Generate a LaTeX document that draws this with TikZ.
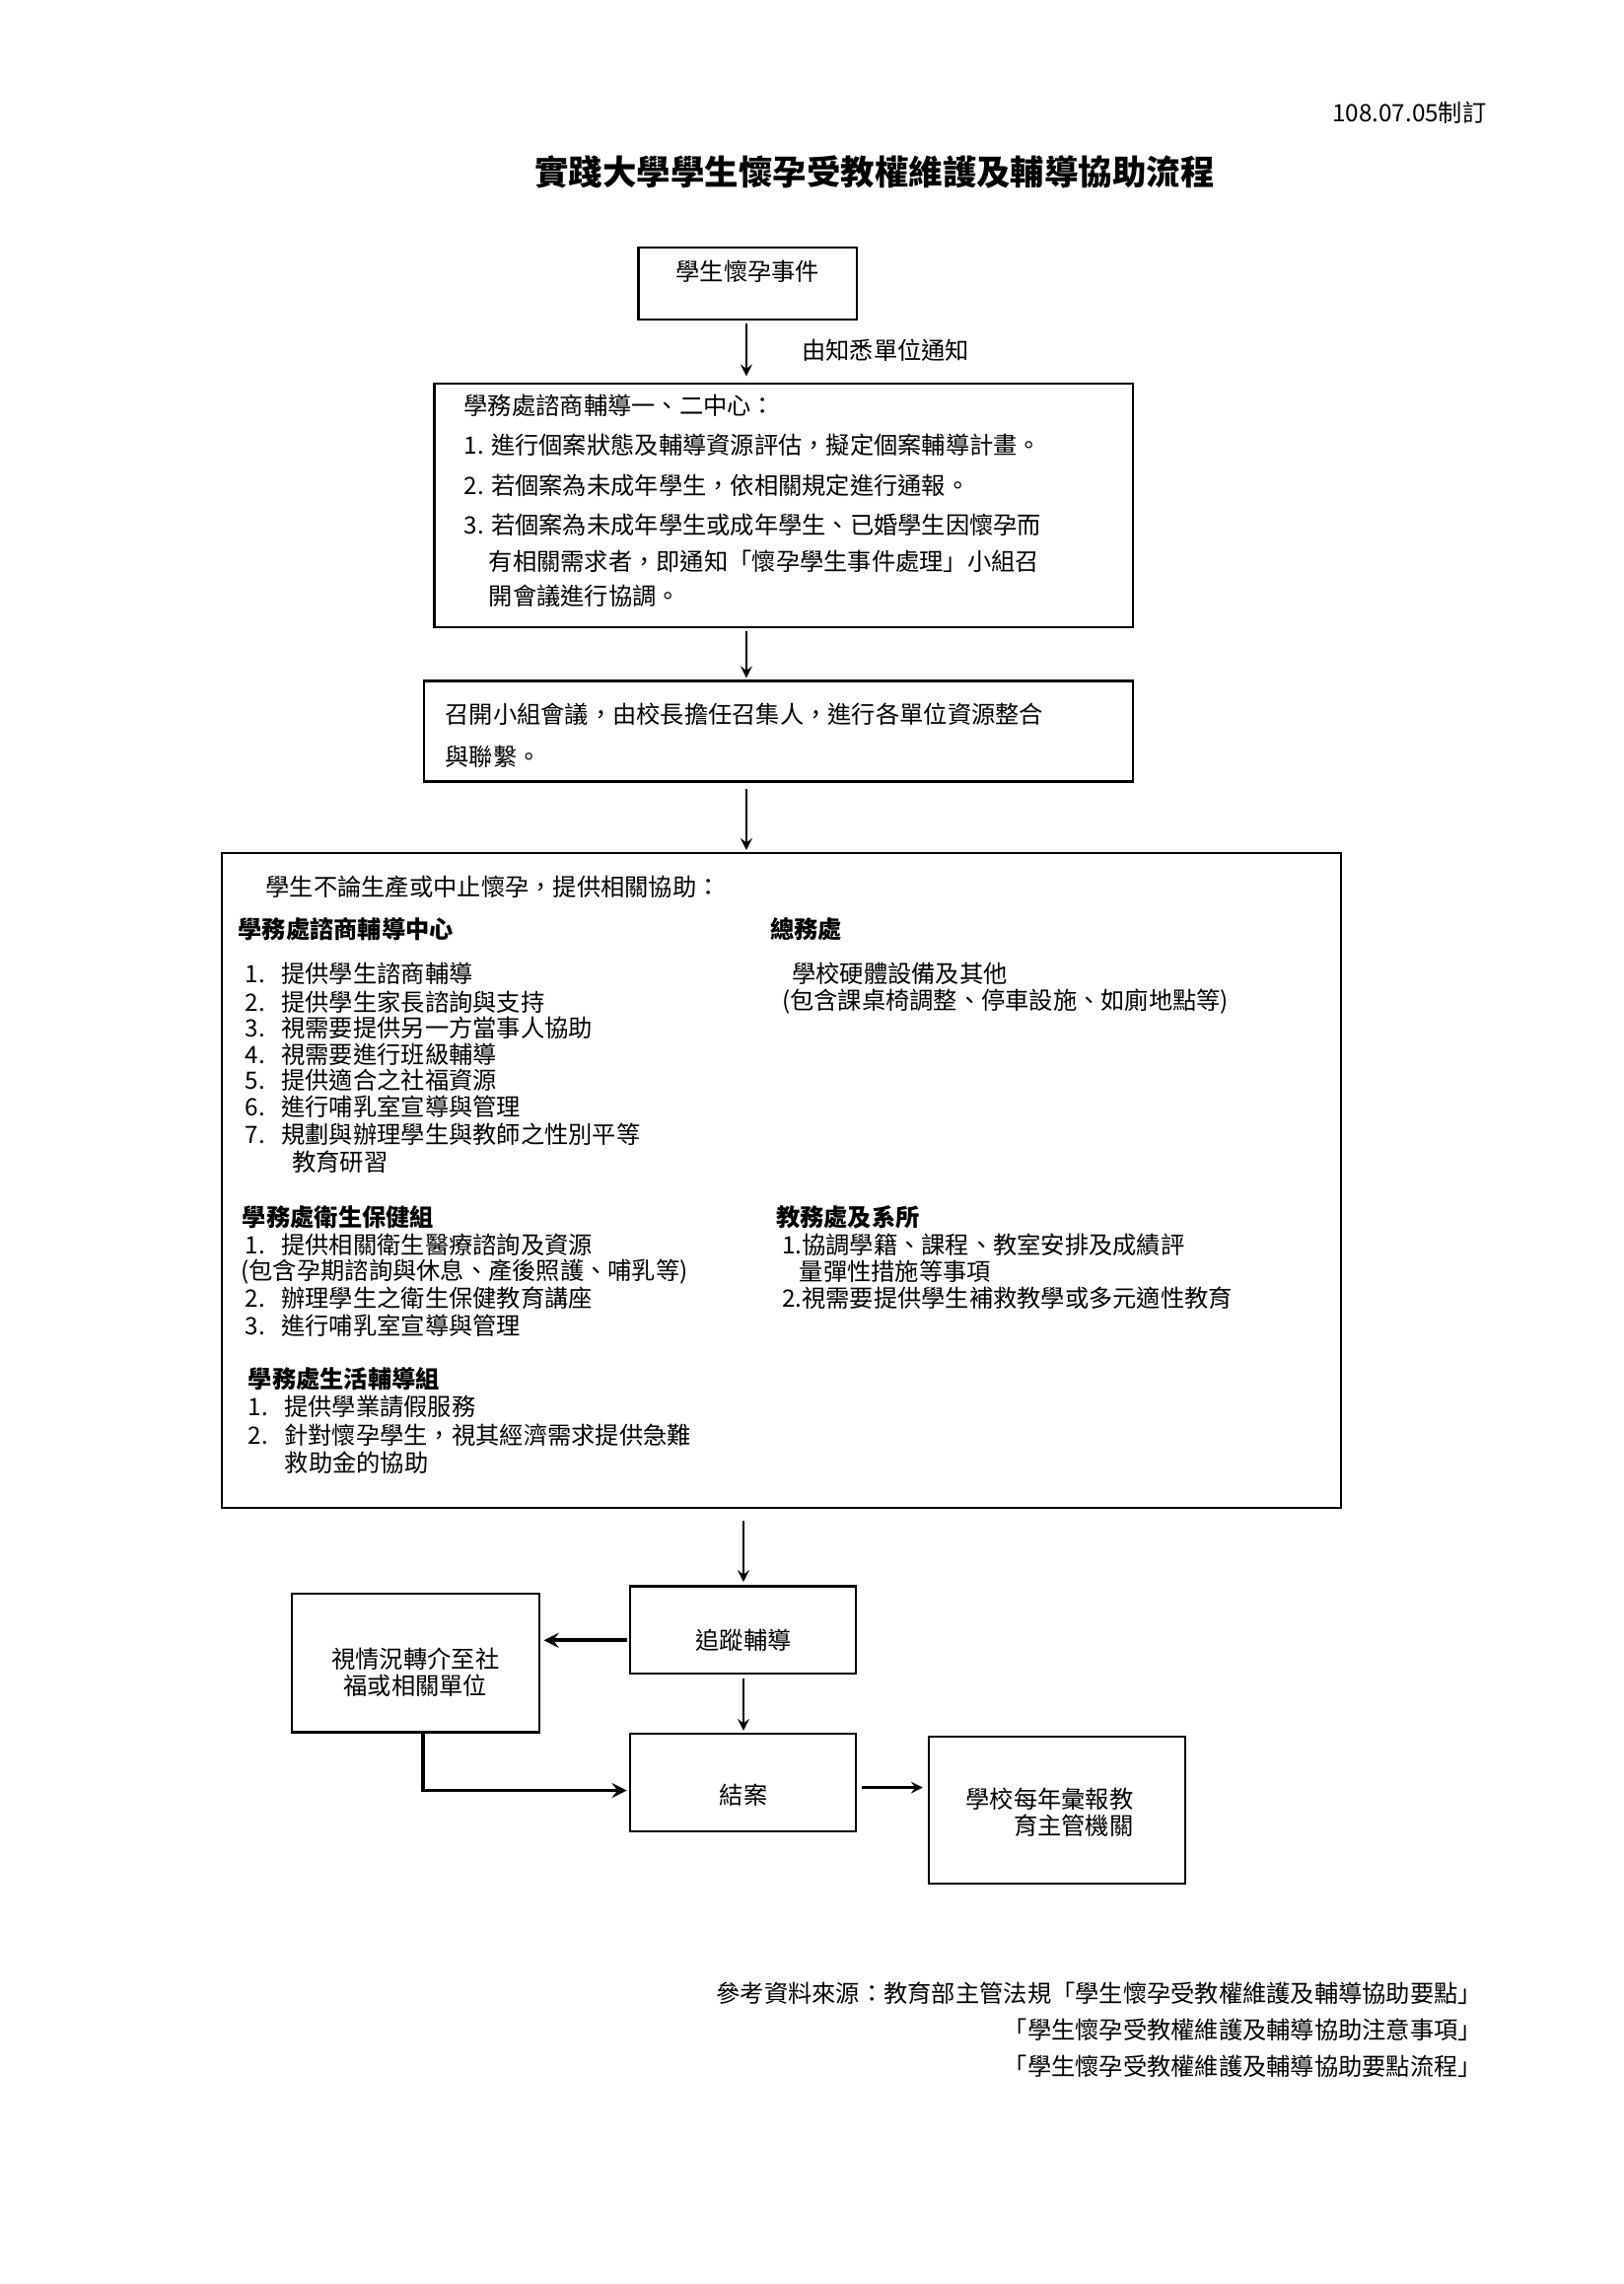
\documentclass[tikz,border=0pt]{standalone}
\usepackage{fontspec}
\setmainfont{Noto Sans CJK TC}
\usetikzlibrary{positioning}
\begin{document}
\begin{tikzpicture}[x=0.01885cm,y=-0.01885cm,font=\fontsize{8.8}{10}\selectfont]
\tikzstyle{box}=[draw,line width=0.8pt]
\tikzstyle{txt}=[anchor=west,inner sep=0pt]
\tikzstyle{arr}=[->,line width=0.9pt,>=stealth]
\useasboundingbox (0,0) rectangle (1114,1566.5);
\node[anchor=east,inner sep=0pt] (date) at (1020,77) {108.07.05制訂};
\node[inner sep=0pt,font=\fontsize{12.5}{14}\selectfont\bfseries] (title) at (600,118) {實踐大學學生懷孕受教權維護及輔導協助流程};
% boxes of the flow
\draw[box] (438,170) rectangle (588,219);
\node[inner sep=0pt] (event) at (513,186) {學生懷孕事件};
\draw[box] (298,263) rectangle (777,430);
\draw[box] (291,467) rectangle (777,536);
\draw[box] (152,585) rectangle (920,1034);
\draw[box] (432,1088) rectangle (587,1148);
\draw[box] (200,1093) rectangle (370,1188);
\draw[box] (432,1189) rectangle (587,1256);
\draw[box] (637,1191) rectangle (813,1292);
\coordinate (a1) at (512,222); \coordinate (a2) at (512,258);
\coordinate (b1) at (512,433); \coordinate (b2) at (512,465);
\coordinate (c1) at (512,541); \coordinate (c2) at (512,583);
\coordinate (d1) at (510,1043); \coordinate (d2) at (510,1085);
\coordinate (e1) at (430,1125); \coordinate (e2) at (373,1125);
\coordinate (f1) at (510,1151); \coordinate (f2) at (510,1187);
\coordinate (g1) at (290,1188); \coordinate (g2) at (290,1228); \coordinate (g3) at (430,1228);
\coordinate (h1) at (591,1226); \coordinate (h2) at (633,1226);
\draw[arr] (a1) -- (a2) node[midway,right=20pt,inner sep=0pt] {由知悉單位通知};
\draw[arr] (b1) -- (b2);
\draw[arr] (c1) -- (c2);
\draw[arr] (d1) -- (d2);
\draw[arr,line width=1.4pt] (e1) -- (e2);
\draw[arr] (f1) -- (f2);
\draw[arr,line width=1.4pt] (g1) -- (g2) -- (g3);
\draw[arr] (h1) -- (h2);
% texts
\foreach \name/\x/\y/\t in {
	s1/318/278/{學務處諮商輔導一、二中心：},
	s2/318/305/{1. 進行個案狀態及輔導資源評估，擬定個案輔導計畫。},
	s3/318/333/{2. 若個案為未成年學生，依相關規定進行通報。},
	s4/318/360/{3. 若個案為未成年學生或成年學生、已婚學生因懷孕而},
	s5/335/385/{有相關需求者，即通知「懷孕學生事件處理」小組召},
	s6/335/409/{開會議進行協調。},
	m1/305/490/{召開小組會議，由校長擔任召集人，進行各單位資源整合},
	m2/305/519/{與聯繫。},
	p0/182/608/{學生不論生產或中止懷孕，提供相關協助：},
	p1/168/668/{1.\ \ \ 提供學生諮商輔導},
	p2/168/687/{2.\ \ \ 提供學生家長諮詢與支持},
	p3/168/705/{3.\ \ \ 視需要提供另一方當事人協助},
	p4/168/723/{4.\ \ \ 視需要進行班級輔導},
	p5/168/741/{5.\ \ \ 提供適合之社福資源},
	p6/168/759/{6.\ \ \ 進行哺乳室宣導與管理},
	p7/168/778/{7.\ \ \ 規劃與辦理學生與教師之性別平等},
	p8/200/797/{教育研習},
	q1/168/854/{1.\ \ \ 提供相關衛生醫療諮詢及資源},
	q2/165/872/{(包含孕期諮詢與休息、產後照護、哺乳等)},
	q3/168/890/{2.\ \ \ 辦理學生之衛生保健教育講座},
	q4/168/909/{3.\ \ \ 進行哺乳室宣導與管理},
	r1/170/965/{1.\ \ \ 提供學業請假服務},
	r2/170/984/{2.\ \ \ 針對懷孕學生，視其經濟需求提供急難},
	r3/195/1003/{救助金的協助},
	t1/543/668/{學校硬體設備及其他},
	t2/536/687/{(包含課桌椅調整、停車設施、如廁地點等)},
	u1/536/854/{1.協調學籍、課程、教室安排及成績評},
	u2/548/872/{量彈性措施等事項},
	u3/536/890/{2.視需要提供學生補救教學或多元適性教育}}
	\node[txt] (\name) at (\x,\y) {\t};
\foreach \name/\x/\y/\t in {
	h1/163/637/{學務處諮商輔導中心},
	h2/528/637/{總務處},
	h3/166/835/{學務處衛生保健組},
	h4/532/835/{教務處及系所},
	h5/170/946/{學務處生活輔導組}}
	\node[txt,font=\fontsize{8.8}{10}\selectfont\bfseries] (\name) at (\x,\y) {\t};
\node[inner sep=0pt] (track) at (510,1125) {追蹤輔導};
\node[inner sep=0pt,align=center] (refer) at (285,1147) {視情況轉介至社\\福或相關單位};
\node[inner sep=0pt] (close) at (510,1231) {結案};
\node[inner sep=0pt,align=right] (report) at (720,1243) {學校每年彙報教\\育主管機關};
\foreach \name/\y/\t in {
	f1/1367/{參考資料來源：教育部主管法規「學生懷孕受教權維護及輔導協助要點」},
	f2/1392/{「學生懷孕受教權維護及輔導協助注意事項」},
	f3/1417/{「學生懷孕受教權維護及輔導協助要點流程」}}
	\node[anchor=east,inner sep=0pt] (\name) at (1017,\y) {\t};
\end{tikzpicture}
\end{document}
